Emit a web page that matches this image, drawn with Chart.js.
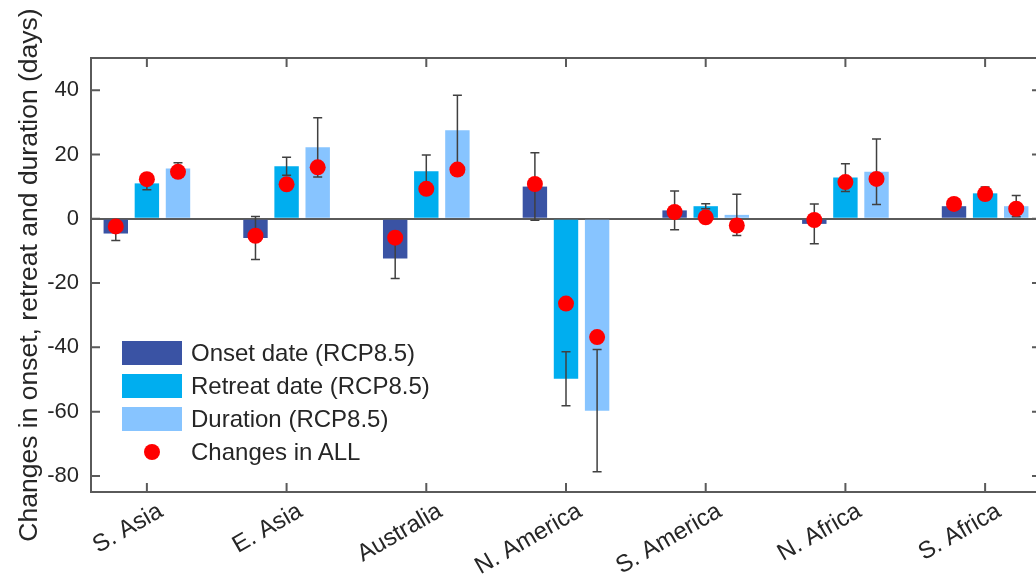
<!DOCTYPE html>
<html>
<head>
<meta charset="utf-8">
<title>Monsoon timing changes</title>
<script src="https://cdn.jsdelivr.net/npm/chart.js@4.4.0/dist/chart.umd.min.js"></script>
<style>
    html, body { margin: 0; padding: 0; background: #fff; overflow: hidden; }
    #wrap { position: relative; width: 1050px; height: 579px; }
    #legend { position: absolute; left: 122px; top: 336px; font-family: 'Liberation Sans', Arial, sans-serif; font-size: 24px; color: #262626; }
    .row { display: flex; align-items: center; height: 33px; }
    .swatch { width: 60px; height: 24px; margin-right: 9px; }
    .dot { width: 16px; height: 16px; border-radius: 50%; background: #ff0000; margin: 0 31px 0 22px; }
</style>
</head>
<body>
<div id="wrap">
    <canvas id="chart"></canvas>
    <div id="legend"></div>
</div>
<script>
// Regions and changes in days (bars: RCP8.5, dots: ALL)
const regions = ['S. Asia', 'E. Asia', 'Australia', 'N. America', 'S. America', 'N. Africa', 'S. Africa'];

const onset = [-4.6, -6.0, -12.4, 10.0, 2.6, -1.6, 3.9];
const retreat = [11.0, 16.3, 14.8, -49.8, 3.9, 12.8, 7.9];
const duration = [15.6, 22.2, 27.5, -59.7, 1.2, 14.6, 3.9];

const onsetErr = [2.2, 6.7, 6.2, 10.5, 6.0, 6.2, 1.0];
const retreatErr = [2.0, 2.8, 5.0, 8.4, 0.8, 4.3, 2.0];
const durationErr = [1.8, 9.2, 10.9, 19.0, 6.4, 10.2, 3.3];

const onsetAll = [-2.4, -5.3, -5.9, 10.8, 2.1, -0.4, 4.6];
const retreatAll = [12.3, 10.7, 9.3, -26.4, 0.45, 11.4, 7.7];
const durationAll = [14.6, 16.0, 15.3, -36.8, -2.1, 12.4, 3.1];

const yTicks = [-80, -60, -40, -20, 0, 20, 40];

const colors = ['#3a53a4', '#00aeef', '#87c4ff'];
const labels = ['Onset date (RCP8.5)', 'Retreat date (RCP8.5)', 'Duration (RCP8.5)'];
const allLabel = 'Changes in ALL';

const FONT = "'Liberation Sans', Arial, sans-serif";
const AXIS_COLOR = '#5a5a5a';
const groupWidth = 0.668;

function barSet(values, errors, k) {
    return {
        type: 'bar',
        label: labels[k],
        data: values.map((v, i) => ({ x: i + 1, y: v })),
        errors: errors,
        backgroundColor: colors[k],
        borderWidth: 0,
        categoryPercentage: groupWidth,
        barPercentage: 0.785,
        order: 1
    };
}

function dotSet(values, k) {
    // dots sit on the centre of the matching bar in each group
    return {
        type: 'scatter',
        label: allLabel,
        data: values.map((v, i) => ({ x: i + 1 + (k - 1) * groupWidth / 3, y: v })),
        backgroundColor: '#ff0000',
        borderWidth: 0,
        pointRadius: 8,
        pointHoverRadius: 8,
        order: 0
    };
}

// Error bars on top of each bar, box and inward tick marks
const extras = {
    id: 'extras',
    afterDatasetDraw(chart, args) {
        const meta = args.meta;
        if (meta.type !== 'bar') return;
        const ds = chart.data.datasets[args.index];
        const y = chart.scales.y;
        const ctx = chart.ctx;
        ctx.save();
        ctx.strokeStyle = '#404040';
        ctx.lineWidth = 1.5;
        meta.data.forEach((el, i) => {
            const v = ds.data[i].y;
            const e = ds.errors[i];
            const top = y.getPixelForValue(v + e);
            const bot = y.getPixelForValue(v - e);
            ctx.beginPath();
            ctx.moveTo(el.x, top); ctx.lineTo(el.x, bot);
            ctx.moveTo(el.x - 4.5, top); ctx.lineTo(el.x + 4.5, top);
            ctx.moveTo(el.x - 4.5, bot); ctx.lineTo(el.x + 4.5, bot);
            ctx.stroke();
        });
        ctx.restore();
    },
    afterDraw(chart) {
        const { ctx, chartArea: a, scales } = chart;
        const len = 9;
        ctx.save();
        ctx.strokeStyle = AXIS_COLOR;
        ctx.lineWidth = 2;
        ctx.strokeRect(a.left, a.top, a.right - a.left, a.bottom - a.top);
        ctx.beginPath();
        scales.x.ticks.forEach(t => {
            const px = scales.x.getPixelForValue(t.value);
            ctx.moveTo(px, a.bottom); ctx.lineTo(px, a.bottom - len);
            ctx.moveTo(px, a.top); ctx.lineTo(px, a.top + len);
        });
        scales.y.ticks.forEach(t => {
            const py = scales.y.getPixelForValue(t.value);
            ctx.moveTo(a.left, py); ctx.lineTo(a.left + len, py);
            ctx.moveTo(a.right, py); ctx.lineTo(a.right - len, py);
        });
        ctx.stroke();
        ctx.restore();
    }
};

new Chart(document.getElementById('chart'), {
    type: 'bar',
    data: {
        datasets: [
            barSet(onset, onsetErr, 0),
            barSet(retreat, retreatErr, 1),
            barSet(duration, durationErr, 2),
            dotSet(onsetAll, 0),
            dotSet(retreatAll, 1),
            dotSet(durationAll, 2)
        ]
    },
    options: {
        responsive: true,
        maintainAspectRatio: false,
        animation: false,
        layout: { padding: { top: 58, right: 9, bottom: 0, left: 0 } },
        plugins: {
            legend: { display: false },
            tooltip: { enabled: false }
        },
        scales: {
            x: {
                type: 'linear',
                min: 0.6,
                max: 7.4,
                offset: false,
                border: { display: false },
                grid: { display: false, drawTicks: false, offset: false },
                afterFit(scale) { scale.height = 87; },
                ticks: {
                    stepSize: 1,
                    includeBounds: false,
                    autoSkip: false,
                    minRotation: 30,
                    maxRotation: 30,
                    padding: 5,
                    labelOffset: 14,
                    color: '#262626',
                    font: { family: FONT, size: 24 },
                    callback: v => regions[v - 1] || ''
                }
            },
            y: {
                min: -85,
                max: 50,
                border: { display: false },
                grid: {
                    drawTicks: false,
                    color: ctx => ctx.tick && ctx.tick.value === 0 ? AXIS_COLOR : 'rgba(0,0,0,0)',
                    lineWidth: 2
                },
                afterFit(scale) { scale.width = 91; },
                afterBuildTicks(scale) { scale.ticks = yTicks.map(v => ({ value: v })); },
                ticks: {
                    padding: 12,
                    color: '#262626',
                    font: { family: FONT, size: 22 }
                },
                title: {
                    display: true,
                    text: 'Changes in onset, retreat and duration (days)',
                    color: '#262626',
                    font: { family: FONT, size: 26.5 },
                    padding: { top: 14, bottom: 0 }
                }
            }
        }
    },
    plugins: [extras]
});

// Legend in the lower left of the plot
const legend = document.getElementById('legend');
labels.forEach((text, k) => {
    const row = document.createElement('div');
    row.className = 'row';
    row.innerHTML = `<div class="swatch" style="background:${colors[k]}"></div><span>${text}</span>`;
    legend.appendChild(row);
});
const dotRow = document.createElement('div');
dotRow.className = 'row';
dotRow.innerHTML = `<div class="dot"></div><span>${allLabel}</span>`;
legend.appendChild(dotRow);
</script>
</body>
</html>
